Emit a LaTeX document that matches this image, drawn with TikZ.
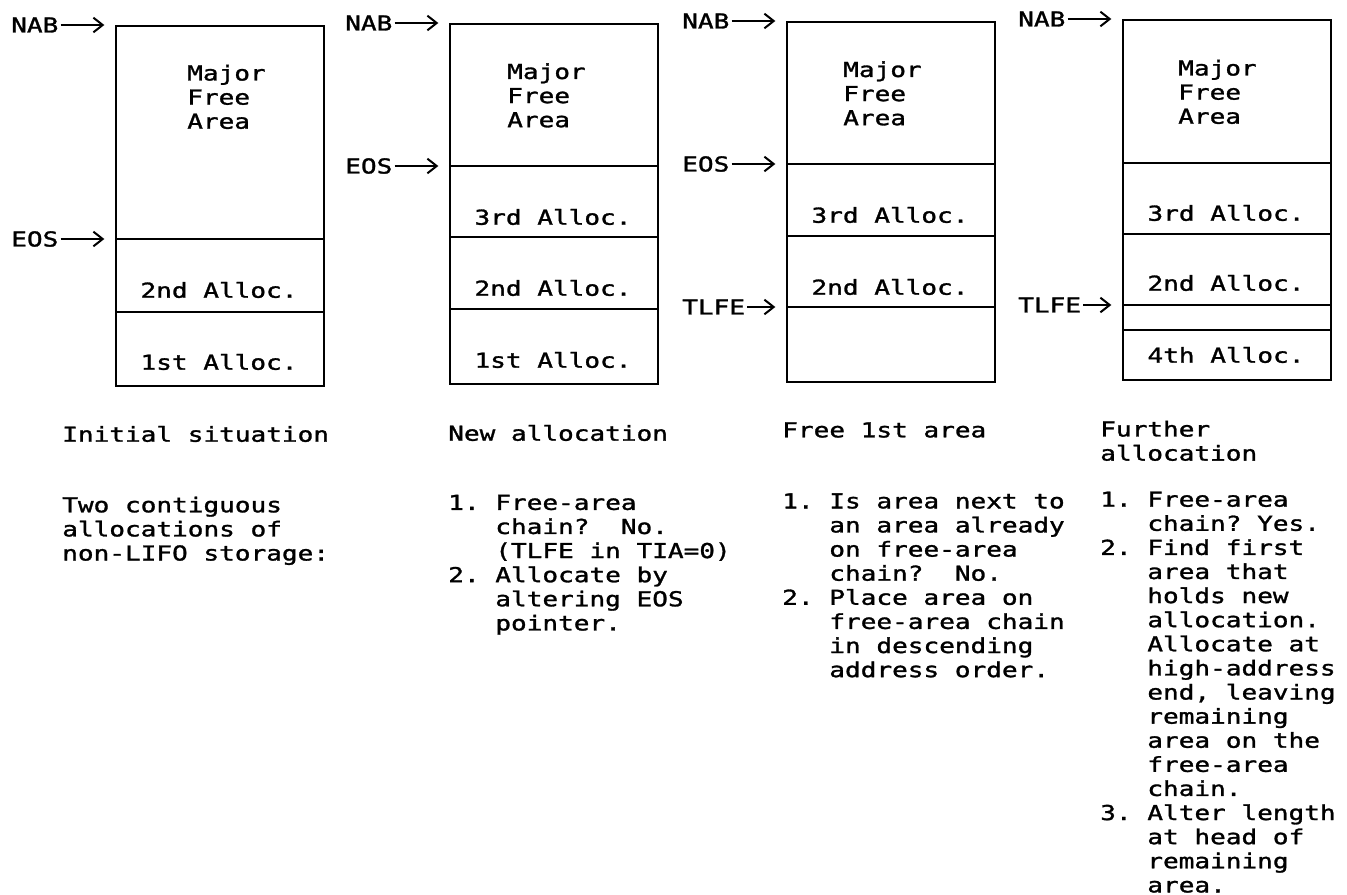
\documentclass[tikz,border=0pt]{standalone}
\usepackage{fontspec}
\usepackage{tikz}
\usetikzlibrary{arrows.meta,positioning}
\newfontfamily\prt[FakeStretch=1.267,FakeBold=1.4]{DejaVu Sans Mono}
\newcommand\prtsize{\fontsize{15.43pt}{18.08pt}\selectfont}
\newcommand\ind{\hphantom{1.~}}

\begin{document}
\begin{tikzpicture}[
  x=0.75pt, y=-0.75pt,
  every node/.style={font=\prt\prtsize\frenchspacing, inner sep=0pt},
  store/.style={rectangle, draw, line width=1.5pt, minimum width=156pt,
    minimum height=270pt, anchor=north west},
  divider/.style={line width=1.4pt},
  ptr/.style={anchor=west},
  heading/.style={anchor=west},
  block/.style={align=left, anchor=north west, execute at begin node=\strut},
  ptrarrow/.style={-{Straight Barb[length=7pt,width=11pt,line width=1.5pt]},
    line width=1.2pt, shorten >=8pt, shorten <=1.5pt},
]
\useasboundingbox (0,0) rectangle (1347,895);

% Storage boxes
\node[store] (b1) at (115,25) {};
\node[store] (b2) at (449,23) {};
\node[store] (b3) at (786,21) {};
\node[store] (b4) at (1122,19) {};

% Pointers
\node[ptr] (nab1) at (11,25) {NAB};
\node[ptr] (eos1) at (11,239) {EOS};
\node[ptr] (nab2) at (345,23) {NAB};
\node[ptr] (eos2) at (345,166) {EOS};
\node[ptr] (nab3) at (682,21) {NAB};
\node[ptr] (eos3) at (682,164) {EOS};
\node[ptr] (tlfe3) at (682,307) {TLFE};
\node[ptr] (nab4) at (1018,19) {NAB};
\node[ptr] (tlfe4) at (1018,305) {TLFE};

% Dividers
\draw[divider] (b1.west |- eos1) -- (b1.east |- eos1);
\draw[divider] (b1.west |- 0,312) -- (b1.east |- 0,312);
\draw[divider] (b2.west |- eos2) -- (b2.east |- eos2);
\draw[divider] (b2.west |- 0,237) -- (b2.east |- 0,237);
\draw[divider] (b2.west |- 0,309) -- (b2.east |- 0,309);
\draw[divider] (b3.west |- eos3) -- (b3.east |- eos3);
\draw[divider] (b3.west |- 0,236) -- (b3.east |- 0,236);
\draw[divider] (b3.west |- tlfe3) -- (b3.east |- tlfe3);
\draw[divider] (b4.west |- 0,163) -- (b4.east |- 0,163);
\draw[divider] (b4.west |- 0,234) -- (b4.east |- 0,234);
\draw[divider] (b4.west |- tlfe4) -- (b4.east |- tlfe4);
\draw[divider] (b4.west |- 0,330) -- (b4.east |- 0,330);

% Arrows
\draw[ptrarrow] (nab1) -- (b1.north west);
\draw[ptrarrow] (eos1) -- (b1.west |- eos1);
\draw[ptrarrow] (nab2) -- (b2.north west);
\draw[ptrarrow] (eos2) -- (b2.west |- eos2);
\draw[ptrarrow] (nab3) -- (b3.north west);
\draw[ptrarrow] (eos3) -- (b3.west |- eos3);
\draw[ptrarrow] (tlfe3) -- (b3.west |- tlfe3);
\draw[ptrarrow] (nab4) -- (b4.north west);
\draw[ptrarrow] (tlfe4) -- (b4.west |- tlfe4);

% Areas inside the boxes
\node[block] (free1) at (187,64.6) {Major\\Free\\Area};
\node (al12) at (219,290) {2nd Alloc.};
\node (al11) at (219,362) {1st Alloc.};
\node[block] (free2) at (507,63.1) {Major\\Free\\Area};
\node (al23) at (553,217) {3rd Alloc.};
\node (al22) at (553,288) {2nd Alloc.};
\node (al21) at (553,360) {1st Alloc.};
\node[block] (free3) at (843,61.1) {Major\\Free\\Area};
\node (al33) at (890,215) {3rd Alloc.};
\node (al32) at (890,287) {2nd Alloc.};
\node[block] (free4) at (1178,59.6) {Major\\Free\\Area};
\node (al43) at (1226,213) {3rd Alloc.};
\node (al42) at (1226,283) {2nd Alloc.};
\node (al44) at (1226,355) {4th Alloc.};

% Captions
\node[heading] (cap1) at (62,434) {Initial situation};
\node[heading] (cap2) at (448,433) {New allocation};
\node[heading] (cap3) at (782,430) {Free 1st area};
\node[block] (cap4) at (1100,420.6) {Further\\allocation};

% Steps
\node[block] (desc1) at (62,496.4) {Two contiguous\\allocations of\\non-LIFO storage:};
\node[block] (desc2) at (448,494.6) {1. Free-area\\\ind chain?~~No.\\\ind (TLFE in TIA=0)\\
  2. Allocate by\\\ind altering EOS\\\ind pointer.};
\node[block] (desc3) at (782,493.1) {1. Is area next to\\\ind an area already\\\ind on free-area\\
  \ind chain?~~No.\\2. Place area on\\\ind free-area chain\\\ind in descending\\
  \ind address order.};
\node[block] (desc4) at (1100,491.4) {1. Free-area\\\ind chain? Yes.\\2. Find first\\
  \ind area that\\\ind holds new\\\ind allocation.\\\ind Allocate at\\\ind high-address\\
  \ind end, leaving\\\ind remaining\\\ind area on the\\\ind free-area\\\ind chain.\\
  3. Alter length\\\ind at head of\\\ind remaining\\\ind area.};
\end{tikzpicture}
\end{document}
